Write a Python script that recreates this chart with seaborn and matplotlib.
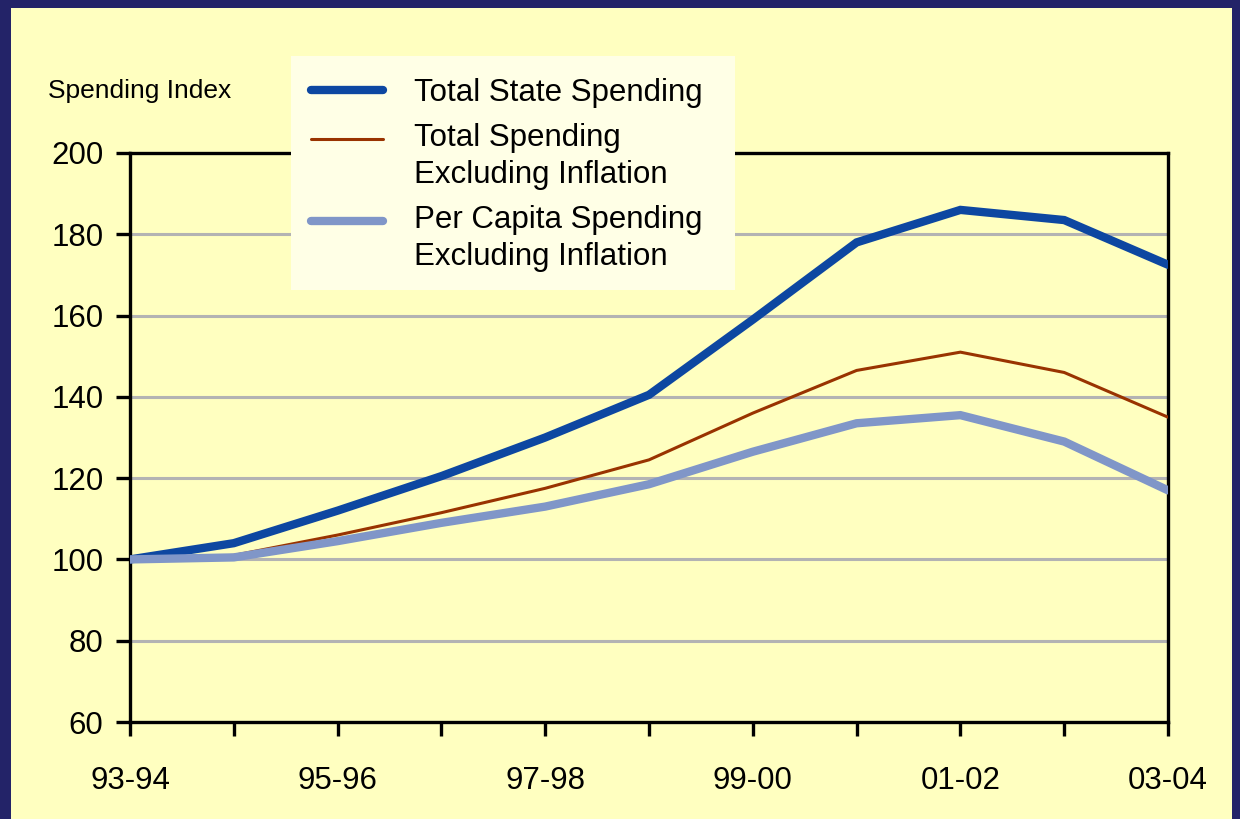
import numpy as np
import pandas as pd
import seaborn as sns
import matplotlib.pyplot as plt
from matplotlib.patches import Rectangle
from matplotlib.lines import Line2D
from matplotlib.legend_handler import HandlerLine2D

# Dados (índice, 93-94 = 100)
anos = ["93-94", "94-95", "95-96", "96-97", "97-98", "98-99",
        "99-00", "00-01", "01-02", "02-03", "03-04"]
total_estado = [100, 104, 112, 120.5, 130, 140.5, 159, 178, 186, 183.5, 172.5]
total_sem_inflacao = [100, 101, 106, 111.5, 117.5, 124.5, 136, 146.5, 151, 146, 135]
per_capita_sem_inflacao = [100, 100.5, 104.5, 109, 113, 118.5, 126.5, 133.5, 135.5, 129, 117]

series = [
    ("Total State Spending", total_estado, "#0d47a1", 6.0),
    ("Total Spending\nExcluding Inflation", total_sem_inflacao, "#993300", 2.2),
    ("Per Capita Spending\nExcluding Inflation", per_capita_sem_inflacao, "#8096c8", 6.0),
]


class HandlerLinhaTopo(HandlerLine2D):
    """Sobe a amostra da legenda para ficar alinhada com a primeira linha do texto."""
    def __init__(self, desloc, **kw):
        super().__init__(**kw)
        self.desloc = desloc

    def create_artists(self, legend, orig_handle, xdescent, ydescent, width,
                       height, fontsize, trans):
        artists = super().create_artists(legend, orig_handle, xdescent, ydescent,
                                         width, height, fontsize, trans)
        for a in artists:
            if isinstance(a, Line2D):
                a.set_ydata(np.asarray(a.get_ydata()) + self.desloc)
        return artists


sns.set_theme(style="white")
plt.rcParams['font.family'] = ['Liberation Sans', 'DejaVu Sans']

W, H = 1240, 819
fig = plt.figure(figsize=(12.4, 8.19), dpi=100, facecolor="#232368")
# fundo amarelo dentro da moldura azul
fig.patches.append(Rectangle((11 / W, 0), 1221 / W, 1 - 8 / H,
                             transform=fig.transFigure, facecolor="#ffffc0",
                             edgecolor="none", zorder=-10))

ax = fig.add_axes([130 / W, 1 - 722 / H, 1038 / W, 569 / H])
ax.set_facecolor("#ffffc0")

x = list(range(len(anos)))
for nome, valores, cor, lw in series:
    df = pd.DataFrame({"x": x, "y": valores})
    sns.lineplot(data=df, x="x", y="y", color=cor, linewidth=lw, label=nome,
                 ax=ax, solid_joinstyle="miter", zorder=3)

ax.set_xlim(0, len(anos) - 1)
ax.set_ylim(60, 200)
ax.set_yticks(range(60, 201, 20))
ax.set_xticks(x)
ax.set_xticklabels([a if i % 2 == 0 else "" for i, a in enumerate(anos)])
ax.set_xlabel("")
ax.set_ylabel("")

for v in range(80, 200, 20):
    ax.axhline(v, color="#b3b3b3", linewidth=2.2, zorder=1)

for s in ax.spines.values():
    s.set_color("black")
    s.set_linewidth(2.4)

ax.tick_params(axis="both", direction="out", length=10, width=2.4,
               color="black", labelsize=22.5, labelcolor="black")
ax.tick_params(axis="y", pad=9)
ax.tick_params(axis="x", pad=22)
ax.tick_params(left=True, bottom=True)

fig.text(48 / W, 1 - 91 / H, "Spending Index", fontsize=19,
         va="center", ha="left", color="black")

# caixa da legenda desenhada à parte
ax.add_patch(Rectangle((291 / W, 1 - 290 / H), 444 / W, 234 / H,
                       transform=fig.transFigure, facecolor="#ffffe6",
                       edgecolor="none", zorder=4, clip_on=False))

handles, labels = ax.get_legend_handles_labels()
hmap = {h: HandlerLinhaTopo(13 if "\n" in lab else 0) for h, lab in zip(handles, labels)}
leg = ax.legend(handles, labels, handler_map=hmap,
                loc="upper left", bbox_to_anchor=(311 / W, 1 - 78 / H),
                bbox_transform=fig.transFigure, fontsize=22.5, frameon=False,
                handlelength=2.3, handletextpad=1.0, borderpad=0,
                labelspacing=0.48, borderaxespad=0)
for t in leg.get_texts():
    t.set_linespacing(1.3)
    t.set_color("black")
leg.set_zorder(5)

fig.savefig("out.png", dpi=100, facecolor=fig.get_facecolor())
